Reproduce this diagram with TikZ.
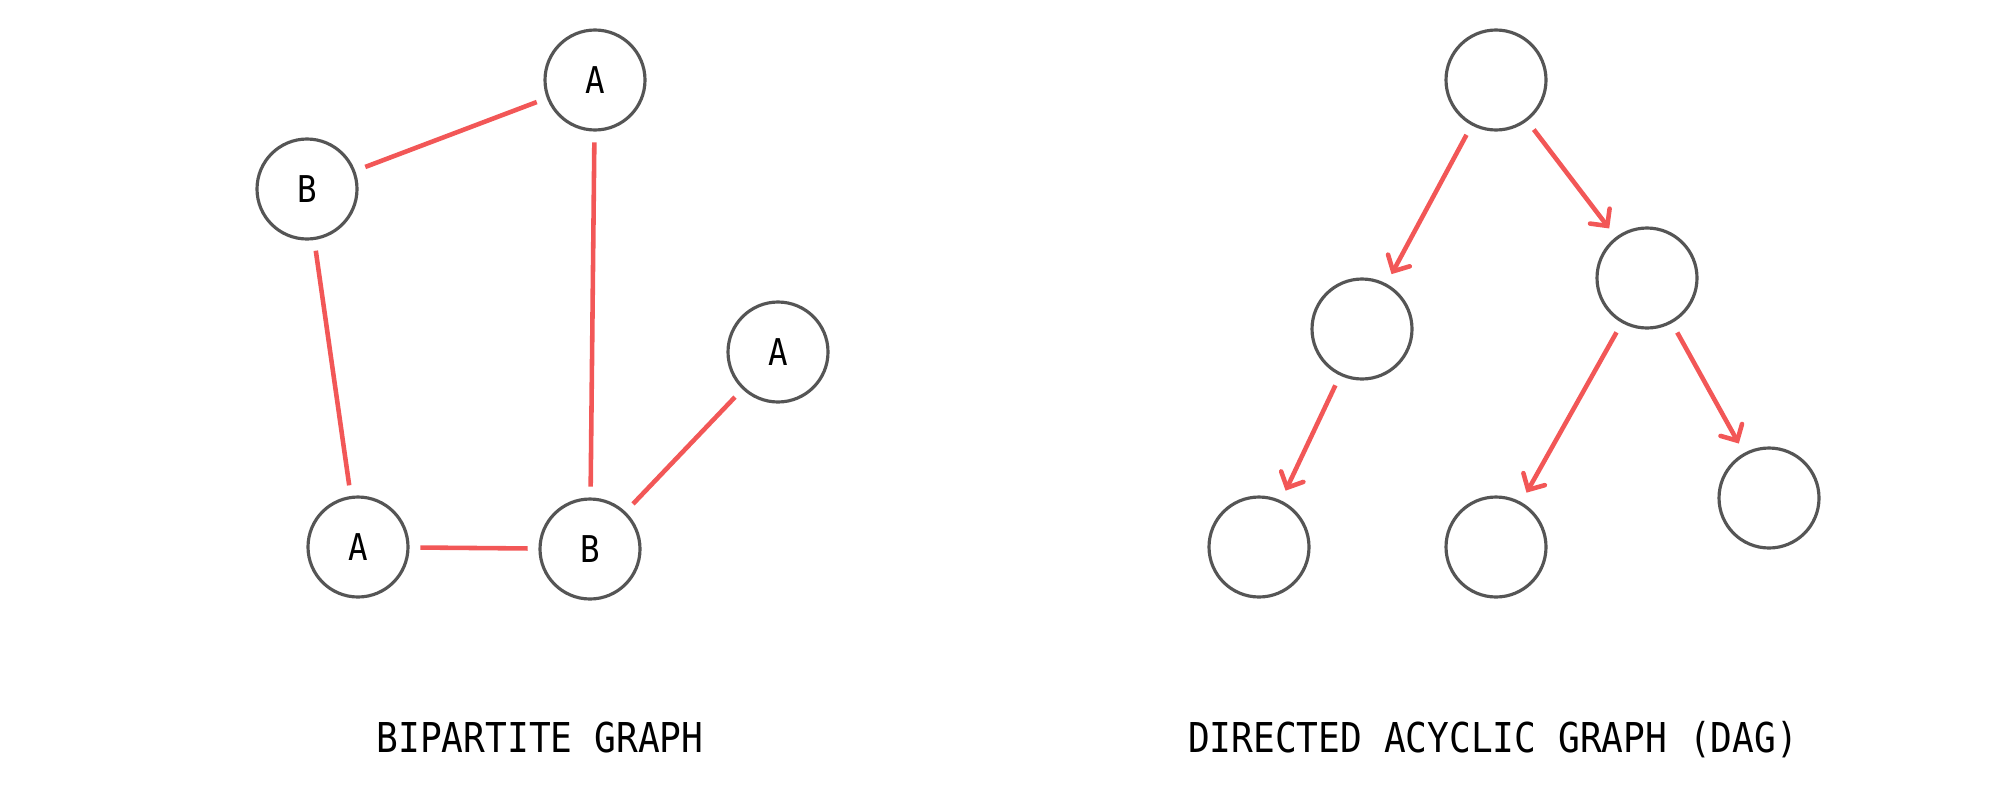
\documentclass[tikz,border=0pt]{standalone}
\usepackage{fontspec}
\newfontfamily\graphfont[FakeStretch=0.88]{DejaVu Sans Mono}
\usetikzlibrary{arrows.meta}
\definecolor{edgered}{HTML}{F25757}
\definecolor{ringgray}{HTML}{555555}

\begin{document}
\begin{tikzpicture}[vertex/.style={circle, draw=ringgray, line width=0.9pt, minimum size=1cm, inner sep=0pt, outer sep=3.5pt, font=\graphfont\fontsize{10.5}{12}\selectfont}, edge/.style={draw=edgered, line width=1.3pt}, caption/.style={anchor=base, font=\graphfont\fontsize{11.7}{14}\selectfont}, >={Straight Barb[length=3.5pt, width=7pt, line cap=round]}]
        \useasboundingbox (0,0) rectangle (19.98,7.90);
        % bipartite graph
        \node[vertex] (1) at (5.95, 7.10) {A};
        \node[vertex] (2) at (3.07, 6.01) {B};
        \node[vertex] (3) at (7.78, 4.38) {A};
        \node[vertex] (4) at (3.58, 2.43) {A};
        \node[vertex] (5) at (5.90, 2.41) {B};
        \draw[edge] (2) -- (1);
        \draw[edge] (2) -- (4);
        \draw[edge] (1) -- (5);
        \draw[edge] (4) -- (5);
        \draw[edge] (5) -- (3);
        \node[caption] (l1) at (5.40, 0.38) {BIPARTITE GRAPH};
        % dag
        \node[vertex] (6) at (14.96, 7.10) {};
        \node[vertex] (7) at (13.62, 4.61) {};
        \node[vertex] (8) at (16.47, 5.12) {};
        \node[vertex] (9) at (12.59, 2.43) {};
        \node[vertex] (10) at (14.96, 2.43) {};
        \node[vertex] (11) at (17.69, 2.92) {};
        \draw[edge, ->] (6) -- (7);
        \draw[edge, ->] (6) -- (8);
        \draw[edge, ->] (7) -- (9);
        \draw[edge, ->] (8) -- (10);
        \draw[edge, ->] (8) -- (11);
        \node[caption] (l2) at (14.93, 0.38) {DIRECTED ACYCLIC GRAPH (DAG)};
    \end{tikzpicture}
\end{document}
